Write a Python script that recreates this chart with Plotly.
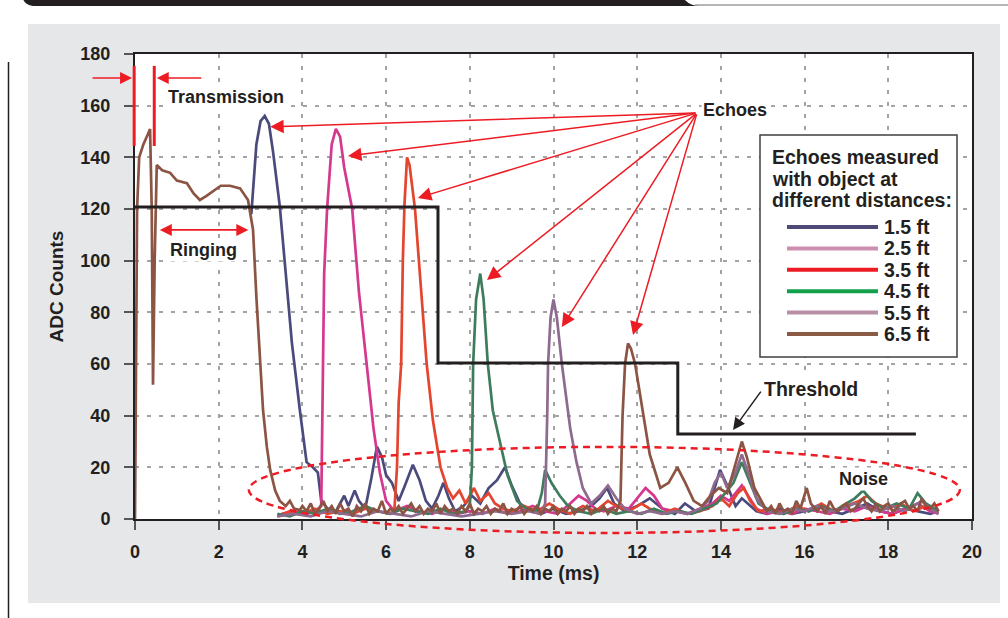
import plotly.graph_objects as go

# ---------------- data ----------------
x_range = [0, 20]
y_range = [0, 180]
x_ticks = [0, 2, 4, 6, 8, 10, 12, 14, 16, 18, 20]
y_ticks = [0, 20, 40, 60, 80, 100, 120, 140, 160, 180]

series_names = ["1.5 ft", "2.5 ft", "3.5 ft", "4.5 ft", "5.5 ft", "6.5 ft"]
line_colors = ["#4b4a7c", "#d5388f", "#e4452f", "#3e7c5d", "#8e6a8e", "#8b5443"]
legend_colors = ["#4e4a78", "#cc8fb0", "#ed1c24", "#12a04a", "#b88fa4", "#8b5a44"]

echo_15 = [(2.78, 118), (2.9, 145), (3.0, 154), (3.1, 156), (3.2, 153), (3.3, 142), (3.46, 121),
           (3.6, 95), (3.75, 68), (3.94, 42), (4.1, 22), (4.25, 20), (4.37, 18), (4.45, 7), (4.6, 4),
           (4.8, 3), (5.0, 9), (5.1, 5), (5.25, 11), (5.35, 7), (5.5, 4), (5.65, 16), (5.78, 28),
           (5.9, 24), (6.0, 17), (6.14, 14), (6.3, 7), (6.45, 13), (6.64, 21), (6.8, 15), (6.95, 7),
           (7.1, 4), (7.25, 9), (7.37, 14), (7.5, 8), (7.65, 3), (7.85, 5), (8.05, 9), (8.25, 6),
           (8.45, 12), (8.65, 15), (8.84, 20), (9.0, 13), (9.2, 6), (9.45, 3), (9.7, 2), (10.0, 4),
           (10.3, 2), (10.6, 3), (10.9, 5), (11.1, 8), (11.28, 12), (11.45, 6), (11.7, 3), (12.0, 5),
           (12.3, 8), (12.6, 4), (12.9, 2), (13.14, 6), (13.4, 3), (13.7, 4), (13.85, 12), (13.98, 19),
           (14.15, 13), (14.35, 5), (14.5, 8), (14.65, 6), (14.85, 3), (15.1, 2), (15.4, 4), (15.7, 2),
           (16.0, 3), (16.3, 5), (16.6, 3), (16.9, 2), (17.2, 4), (17.5, 6), (17.8, 3), (18.1, 2),
           (18.4, 4), (18.7, 3), (19.0, 2), (19.2, 3)]

echo_25 = [(3.5, 2), (3.8, 3), (4.1, 2), (4.3, 3), (4.45, 5), (4.49, 60), (4.52, 95), (4.59, 120),
           (4.7, 145), (4.8, 151), (4.9, 148), (5.0, 136), (5.19, 120), (5.35, 88), (5.54, 60),
           (5.7, 35), (5.85, 18), (6.0, 7), (6.2, 3), (6.5, 5), (6.8, 3), (7.1, 2), (7.4, 4), (7.7, 2),
           (8.0, 3), (8.3, 2), (8.6, 4), (8.9, 2), (9.2, 3), (9.5, 5), (9.8, 3), (10.1, 2), (10.4, 6),
           (10.6, 9), (10.8, 7), (11.0, 4), (11.2, 3), (11.5, 5), (11.8, 4), (12.0, 8), (12.2, 12),
           (12.4, 9), (12.6, 4), (12.9, 3), (13.2, 2), (13.5, 4), (13.8, 6), (14.0, 9), (14.2, 7),
           (14.4, 11), (14.5, 13), (14.65, 9), (14.85, 4), (15.1, 2), (15.4, 3), (15.7, 2), (16.0, 4),
           (16.3, 3), (16.6, 2), (16.9, 4), (17.2, 3), (17.5, 5), (17.8, 3), (18.1, 2), (18.4, 4),
           (18.7, 6), (19.0, 3), (19.2, 2)]

echo_35 = [(3.4, 1), (3.7, 3), (4.0, 2), (4.3, 4), (4.6, 2), (4.9, 3), (5.2, 2), (5.5, 4), (5.8, 3),
           (6.1, 2), (6.2, 4), (6.26, 20), (6.3, 45), (6.36, 60), (6.4, 100), (6.44, 122), (6.5, 140),
           (6.56, 137), (6.69, 120), (6.83, 90), (6.97, 60), (7.12, 38), (7.3, 20), (7.46, 12),
           (7.6, 8), (7.75, 11), (7.9, 6), (8.0, 9), (8.1, 12), (8.25, 7), (8.45, 10), (8.6, 6),
           (8.8, 4), (9.0, 3), (9.3, 5), (9.6, 3), (9.9, 6), (10.1, 4), (10.4, 2), (10.7, 5), (11.0, 3),
           (11.3, 7), (11.5, 5), (11.8, 3), (12.1, 6), (12.3, 4), (12.6, 2), (12.9, 4), (13.2, 2),
           (13.5, 3), (13.8, 5), (14.0, 8), (14.2, 5), (14.4, 10), (14.55, 12), (14.7, 7), (14.9, 3),
           (15.2, 4), (15.5, 2), (15.8, 5), (16.1, 3), (16.4, 6), (16.7, 3), (17.0, 5), (17.3, 7),
           (17.5, 9), (17.7, 6), (18.0, 4), (18.3, 6), (18.6, 3), (18.9, 5), (19.2, 3)]

echo_45 = [(3.4, 2), (3.7, 1), (4.0, 3), (4.3, 2), (4.6, 4), (4.9, 2), (5.2, 3), (5.5, 5), (5.8, 3),
           (6.1, 2), (6.4, 4), (6.7, 3), (7.0, 2), (7.3, 4), (7.6, 2), (7.9, 3), (8.0, 5), (8.05, 20),
           (8.08, 60), (8.15, 85), (8.25, 95), (8.33, 85), (8.43, 60), (8.55, 42), (8.72, 30),
           (8.9, 17), (9.13, 7), (9.35, 4), (9.6, 3), (9.72, 10), (9.8, 19), (9.95, 14), (10.15, 9),
           (10.35, 5), (10.6, 3), (10.9, 2), (11.2, 4), (11.5, 2), (11.8, 3), (12.1, 2), (12.4, 4),
           (12.7, 2), (13.0, 3), (13.3, 2), (13.6, 4), (13.9, 6), (14.1, 10), (14.3, 14), (14.5, 22),
           (14.7, 14), (14.9, 6), (15.2, 3), (15.5, 2), (15.8, 4), (16.1, 3), (16.4, 5), (16.7, 3),
           (17.0, 6), (17.2, 8), (17.4, 11), (17.6, 7), (17.9, 4), (18.2, 6), (18.5, 4), (18.7, 10),
           (18.9, 6), (19.2, 3)]

echo_55 = [(3.4, 1), (3.8, 2), (4.2, 1), (4.6, 3), (5.0, 2), (5.4, 1), (5.8, 3), (6.2, 2), (6.6, 1),
           (7.0, 3), (7.4, 2), (7.8, 1), (8.2, 2), (8.6, 3), (9.0, 2), (9.4, 3), (9.7, 2), (9.8, 6),
           (9.85, 40), (9.87, 60), (9.93, 78), (10.0, 85), (10.08, 78), (10.2, 60), (10.4, 35),
           (10.55, 22), (10.7, 12), (10.9, 6), (11.1, 9), (11.3, 13), (11.5, 8), (11.7, 4), (12.0, 2),
           (12.3, 3), (12.6, 2), (12.9, 3), (13.2, 2), (13.5, 4), (13.7, 7), (13.85, 14), (14.0, 18),
           (14.15, 12), (14.35, 18), (14.5, 25), (14.65, 18), (14.85, 8), (15.1, 3), (15.4, 2),
           (15.7, 4), (16.0, 3), (16.3, 5), (16.6, 3), (16.9, 4), (17.2, 6), (17.5, 4), (17.8, 3),
           (18.1, 5), (18.4, 3), (18.8, 7), (19.0, 4), (19.2, 2)]

echo_65 = [(0.0, 0), (0.02, 60), (0.05, 120), (0.1, 140), (0.2, 145), (0.31, 149), (0.36, 151),
           (0.4, 120), (0.43, 52), (0.47, 100), (0.52, 137), (0.65, 135), (0.84, 134), (1.0, 131),
           (1.24, 130), (1.4, 126), (1.55, 123.5), (1.7, 125), (1.87, 127), (2.05, 129), (2.27, 129),
           (2.51, 128), (2.7, 123.5), (2.82, 112), (2.9, 86), (2.99, 60), (3.06, 42), (3.15, 28),
           (3.23, 19), (3.35, 11), (3.46, 7), (3.6, 5), (3.7, 7), (3.8, 4), (3.94, 3.5), (4.0, 5),
           (4.1, 3), (4.2, 6), (4.3, 2), (4.4, 4), (4.5, 7), (4.6, 3), (4.7, 5), (4.8, 2), (4.9, 6),
           (5.0, 3), (5.1, 4), (5.2, 1), (5.3, 5), (5.4, 3), (5.5, 6), (5.6, 2), (5.7, 4), (5.8, 3),
           (5.9, 7), (6.0, 2), (6.1, 4), (6.2, 3), (6.3, 5), (6.4, 2), (6.5, 4), (6.6, 6), (6.7, 3),
           (6.8, 5), (6.9, 2), (7.0, 4), (7.1, 3), (7.2, 6), (7.3, 2), (7.4, 5), (7.5, 3), (7.6, 4),
           (7.7, 2), (7.8, 5), (7.9, 3), (8.0, 6), (8.1, 2), (8.2, 4), (8.3, 3), (8.4, 5), (8.5, 2),
           (8.6, 4), (8.7, 3), (8.8, 6), (8.9, 2), (9.0, 4), (9.1, 3), (9.2, 5), (9.3, 2), (9.4, 4),
           (9.5, 3), (9.6, 5), (9.7, 2), (9.8, 4), (9.9, 3), (10.0, 5), (10.1, 2), (10.2, 4), (10.3, 3),
           (10.4, 5), (10.5, 2), (10.6, 4), (10.7, 3), (10.8, 5), (10.9, 2), (11.0, 4), (11.1, 3),
           (11.2, 5), (11.3, 2), (11.4, 4), (11.5, 3), (11.6, 7), (11.65, 40), (11.71, 60),
           (11.78, 68), (11.85, 66), (11.95, 60), (12.1, 45), (12.3, 25), (12.55, 12), (12.75, 14),
           (12.96, 20), (13.15, 14), (13.35, 7), (13.55, 5), (13.75, 9), (13.95, 12), (14.15, 10),
           (14.35, 22), (14.5, 30), (14.62, 24), (14.8, 12), (15.0, 6), (15.1, 3), (15.2, 5), (15.3, 2),
           (15.4, 6), (15.5, 3), (15.6, 4), (15.7, 2), (15.8, 7), (15.9, 4), (16.05, 12), (16.15, 6),
           (16.3, 3), (16.4, 5), (16.5, 2), (16.6, 7), (16.7, 4), (16.8, 3), (16.9, 5), (17.0, 6),
           (17.1, 3), (17.2, 4), (17.3, 6), (17.4, 8), (17.5, 5), (17.6, 3), (17.7, 6), (17.8, 3),
           (17.9, 5), (18.0, 6), (18.1, 3), (18.2, 4), (18.3, 6), (18.4, 7), (18.5, 4), (18.6, 5),
           (18.7, 3), (18.8, 8), (18.9, 5), (19.0, 4), (19.1, 6), (19.2, 3)]

echo_series = [echo_15, echo_25, echo_35, echo_45, echo_55, echo_65]

threshold_t = [0, 7.24, 7.24, 12.97, 12.97, 18.66]
threshold_adc = [120.8, 120.8, 60.4, 60.4, 32.9, 32.9]

# arrow targets (time, ADC) for the "Echoes" callout
echo_arrow_heads = [(3.23, 151.8), (5.09, 140.5), (6.76, 124.3), (8.41, 92.5), (10.2, 74.3), (11.9, 71.2)]
echo_arrow_tail = (13.43, 157.2)

# ---------------- layout geometry ----------------
W, H = 1008, 618
PL, PR, PT, PB = 135, 972, 54, 519
INK = "#231f20"
RED = "#ed1c24"
FONT = "Liberation Sans, Arial, sans-serif"


def xp(p):  # pixel -> paper
    return (p - PL) / (PR - PL)


def yp(p):
    return (PB - p) / (PB - PT)


def xd(v):  # data -> paper
    return (v - x_range[0]) / (x_range[1] - x_range[0])


def yd(v):
    return (v - y_range[0]) / (y_range[1] - y_range[0])


fig = go.Figure()
for name, col, pts in zip(series_names, line_colors, echo_series):
    xs = [p[0] for p in pts]
    ys = [p[1] for p in pts]
    fig.add_trace(go.Scatter(x=xs, y=ys, mode="lines", name=name,
                             line=dict(color=col, width=2.7), showlegend=False))

fig.add_trace(go.Scatter(x=threshold_t, y=threshold_adc, mode="lines", name="Threshold",
                         line=dict(color=INK, width=3), showlegend=False))

shapes = []
# white surround of the grey panel
for (a, b, c, d) in [(0, 0, W, 24), (0, 603, W, H), (0, 0, 28, H), (1000, 0, W, H)]:
    shapes.append(dict(type="rect", xref="paper", yref="paper", x0=xp(a), x1=xp(c), y0=yp(d), y1=yp(b),
                       fillcolor="white", line=dict(width=0), layer="below"))
# header bar
bar = (f"M {xp(23)},{yp(-1)} L {xp(684)},{yp(-1)} Q {xp(690)},{yp(6)} {xp(700)},{yp(6)} "
       f"L {xp(33)},{yp(6)} Q {xp(25)},{yp(5)} {xp(23)},{yp(-1)} Z")
shapes.append(dict(type="path", xref="paper", yref="paper", path=bar, fillcolor=INK, line=dict(width=0)))
shapes.append(dict(type="line", xref="paper", yref="paper", x0=xp(695), x1=xp(W), y0=yp(5), y1=yp(5),
                   line=dict(color="#6d6e71", width=1.2)))
shapes.append(dict(type="line", xref="paper", yref="paper", x0=xp(8.5), x1=xp(8.5), y0=yp(62), y1=yp(H),
                   line=dict(color=INK, width=1.5)))
# transmission markers
for xv in [-0.02, 0.46]:
    shapes.append(dict(type="line", xref="paper", yref="paper", x0=xd(xv), x1=xd(xv), y0=yd(144.4), y1=yd(175.4),
                       line=dict(color=RED, width=3)))
# noise ellipse
shapes.append(dict(type="circle", xref="paper", yref="paper", x0=xd(2.72), x1=xd(19.71), y0=yd(-5.4), y1=yd(27.9),
                   line=dict(color=RED, width=2.5, dash="7px,5px")))
# legend box
shapes.append(dict(type="rect", xref="paper", yref="paper", x0=xp(760), x1=xp(957), y0=yp(357), y1=yp(135),
                   fillcolor="white", line=dict(color="#414042", width=1.5)))

annotations = []
tfont = dict(family=FONT, size=18, color=INK, weight="bold")
lfont = dict(family=FONT, size=19.5, color=INK, weight="bold")
leg_title = ["Echoes measured", "with object at", "different distances:"]
for i, t in enumerate(leg_title):
    annotations.append(dict(xref="paper", yref="paper", x=xp(770), y=yp(157 + i * 21.5), text=t,
                            showarrow=False, xanchor="left", yanchor="middle", font=lfont))
for i, (name, col) in enumerate(zip(series_names, legend_colors)):
    yy = 227 + i * 21.4
    shapes.append(dict(type="line", xref="paper", yref="paper", x0=xp(787), x1=xp(878), y0=yp(yy), y1=yp(yy),
                       line=dict(color=col, width=4)))
    annotations.append(dict(xref="paper", yref="paper", x=xp(882), y=yp(yy), text=name,
                            showarrow=False, xanchor="left", yanchor="middle", font=lfont))

# text labels
for text, xv, yv, anc, sz in [("Transmission", 0.74, 163.5, "left", 18), ("Ringing", 1.63, 104.1, "center", 18),
                              ("Echoes", 13.52, 158.3, "left", 18), ("Threshold", 14.98, 50.2, "left", 19.5),
                              ("Noise", 17.4, 15.4, "center", 18)]:
    annotations.append(dict(x=xv, y=yv, xref="x", yref="y", text=text, showarrow=False, xanchor=anc,
                            yanchor="middle", bgcolor="white", borderpad=1, font=dict(tfont, size=sz)))

# echo arrows
for hx, hy in echo_arrow_heads:
    annotations.append(dict(x=hx, y=hy, xref="x", yref="y", ax=echo_arrow_tail[0], ay=echo_arrow_tail[1],
                            axref="x", ayref="y", text="", showarrow=True, arrowhead=2, arrowsize=1.8,
                            arrowwidth=1.5, arrowcolor=RED, standoff=0, startstandoff=0))
# transmission arrows (paper x so they are not hidden outside the axis range)
annotations.append(dict(x=xd(-0.07), y=yd(170.7), xref="paper", yref="paper", ax=-41, ay=0, text="",
                        showarrow=True, arrowhead=2, arrowsize=1.5, arrowwidth=1.6, arrowcolor=RED))
annotations.append(dict(x=xd(0.52), y=yd(170.7), xref="paper", yref="paper", ax=46, ay=0, text="",
                        showarrow=True, arrowhead=2, arrowsize=1.5, arrowwidth=1.6, arrowcolor=RED))
# ringing double arrow
annotations.append(dict(x=2.707, y=111.9, xref="x", yref="y", ax=0.557, ay=111.9, axref="x", ayref="y",
                        text="", showarrow=True, arrowhead=2, startarrowhead=2, arrowside="end+start",
                        arrowsize=1.5, startarrowsize=1.5, arrowwidth=1.6, arrowcolor=RED))
# threshold arrow
annotations.append(dict(x=14.29, y=34.5, xref="x", yref="y", ax=14.98, ay=49.9, axref="x", ayref="y",
                        text="", showarrow=True, arrowhead=2, arrowsize=1.6, arrowwidth=1.5, arrowcolor=INK))

axis_common = dict(showline=True, linecolor=INK, linewidth=2, mirror=True, ticks="outside", ticklen=9,
                   tickwidth=1.5, tickcolor="#555555", showgrid=True, gridcolor="#a3a3a3", gridwidth=2,
                   griddash="4px,8px", zeroline=False,
                   tickfont=dict(family=FONT, size=18, color=INK, weight="bold"))

fig.update_layout(
    width=W, height=H,
    margin=dict(l=PL, r=W - PR, t=PT, b=H - PB, autoexpand=False),
    paper_bgcolor="#e6e7e8", plot_bgcolor="white",
    xaxis=dict(range=x_range, tickvals=x_ticks, ticklabelstandoff=6,
               title=dict(text="Time (ms)", standoff=6, font=dict(family=FONT, size=19.5, color=INK, weight="bold")),
               **axis_common),
    yaxis=dict(range=y_range, tickvals=y_ticks, ticklabelstandoff=10,
               title=dict(text="ADC Counts", standoff=12, font=dict(family=FONT, size=19, color=INK, weight="bold")),
               **axis_common),
    shapes=shapes, annotations=annotations, showlegend=False,
)

fig.write_html("out.html", config={"displayModeBar": False},
               post_script="document.body.style.margin='0';")
